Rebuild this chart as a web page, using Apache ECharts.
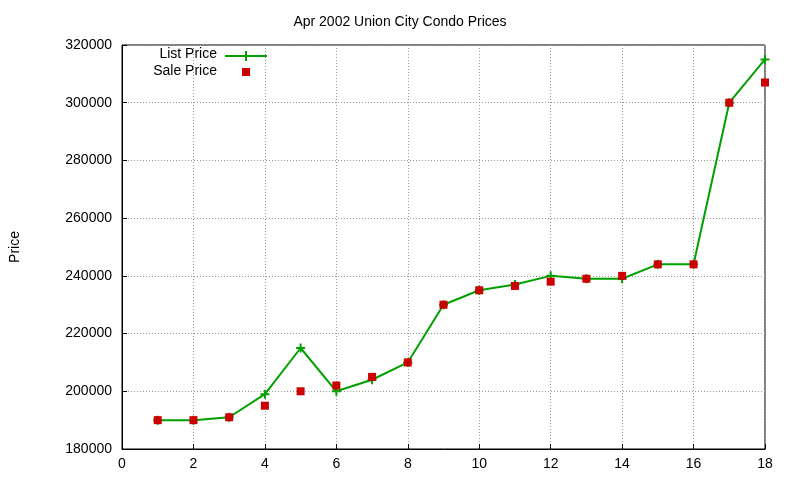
<!DOCTYPE html>
<html><head><meta charset="utf-8">
<script src="https://cdn.jsdelivr.net/npm/echarts@6/dist/echarts.min.js"></script>
<style>html,body{margin:0;padding:0;background:#fff}#c{width:800px;height:480px}</style>
</head><body><div id="c"></div>
<script>
const xs = [1,2,3,4,5,6,7,8,9,10,11,12,13,14,15,16,17,18];
const listPrice = [190000,190000,191000,199000,215000,200000,204000,210000,230000,235000,237000,240000,239000,239000,244000,244000,300000,315000];
const salePrice = [190000,190000,191000,195000,200000,202000,205000,210000,230000,235000,236500,238000,239000,240000,244000,244000,300000,307000];
const seriesNames = ['List Price','Sale Price'];
const font = 'Liberation Sans, Arial, sans-serif';
const chart = echarts.init(document.getElementById('c'));
const split = {show:true, lineStyle:{color:'#999', type:[1,2], width:1}};
const green = '#00a000', red = '#cc0000';
chart.setOption({
  animation:false,
  textStyle:{fontFamily:font},
  title:{text:'Apr 2002 Union City Condo Prices', left:'center', top:10,
    textStyle:{fontFamily:font, fontSize:14, fontWeight:'normal', color:'#000'}},
  grid:{left:120, right:35, top:45, bottom:31, show:true, borderColor:'#000', borderWidth:1},
  graphic:[
    {type:'text', right:800-217, top:47, style:{text:seriesNames[0], font:'14px '+font, fill:'#000', textAlign:'right'}},
    {type:'line', shape:{x1:225,y1:56,x2:267,y2:56}, style:{stroke:green, lineWidth:2}},
    {type:'line', shape:{x1:241,y1:51,x2:251,y2:51+10}, style:{stroke:'none'}},
    {type:'line', shape:{x1:246,y1:51,x2:246,y2:61}, style:{stroke:green, lineWidth:2}},
    {type:'line', shape:{x1:241,y1:56,x2:251,y2:56}, style:{stroke:green, lineWidth:2}},
    {type:'text', right:800-217, top:64, style:{text:seriesNames[1], font:'14px '+font, fill:'#000', textAlign:'right'}},
    {type:'rect', shape:{x:242,y:68,width:8,height:8}, style:{fill:red}}
  ],
  xAxis:{type:'value', min:0, max:18, interval:2,
    axisLine:{show:true, lineStyle:{color:'#000'}}, axisTick:{inside:true, lineStyle:{color:'#000'}},
    axisLabel:{color:'#000', fontSize:14, fontFamily:font, margin:8}, splitLine:split},
  yAxis:{type:'value', min:180000, max:320000, interval:20000, name:'Price', nameLocation:'middle', nameGap:100,
    nameTextStyle:{fontFamily:font, fontSize:14, color:'#000'},
    axisLine:{show:true, lineStyle:{color:'#000'}}, axisTick:{inside:true, lineStyle:{color:'#000'}},
    axisLabel:{color:'#000', fontSize:14, fontFamily:font, margin:10, formatter:v=>String(v)}, splitLine:split},
  series:[
    {name:seriesNames[0], type:'line', data:xs.map((x,i)=>[x,listPrice[i]]),
     color:green, lineStyle:{width:2, color:green},
     symbol:'path://M0,5L10,5M5,0L5,10', symbolSize:9,
     itemStyle:{color:'none', borderColor:green, borderWidth:2}, z:2},
    {name:seriesNames[1], type:'scatter', data:xs.map((x,i)=>[x,salePrice[i]]),
     symbol:'rect', symbolSize:8, itemStyle:{color:red, opacity:1}, color:red, z:3}
  ]
});
</script></body></html>
